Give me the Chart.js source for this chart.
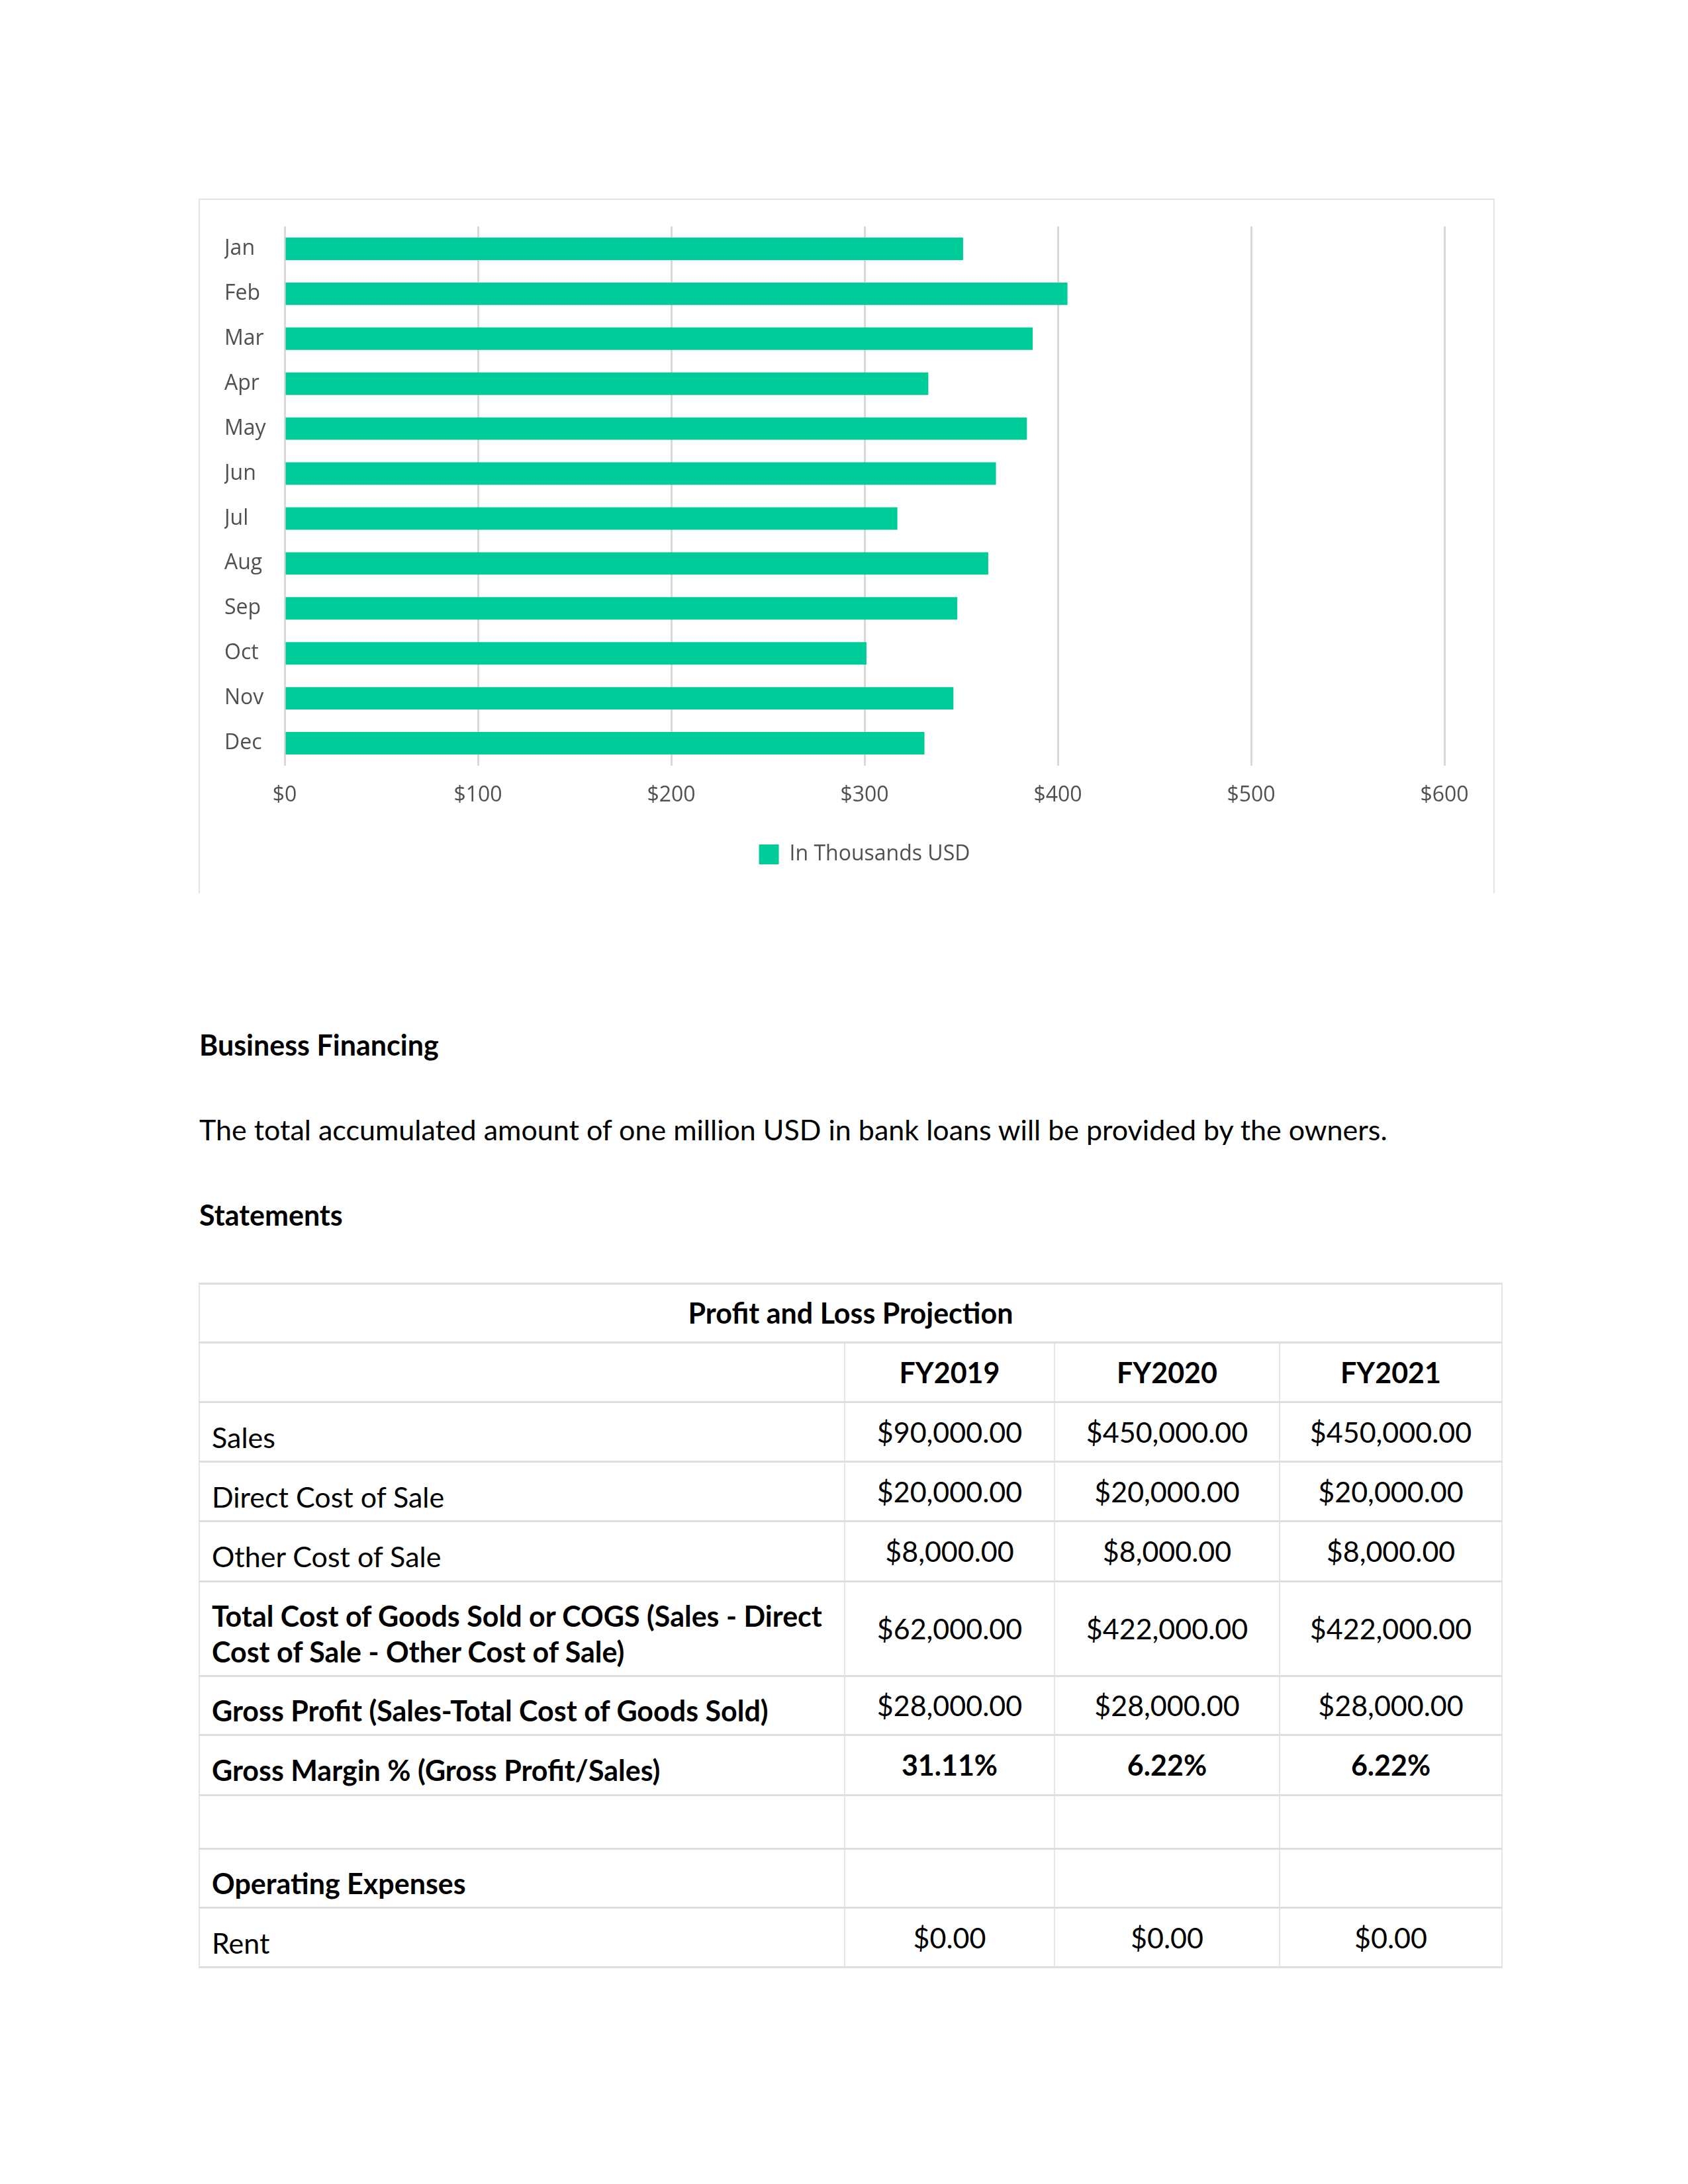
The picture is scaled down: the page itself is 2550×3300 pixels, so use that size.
<!DOCTYPE html>
<html>
<head>
<meta charset="utf-8">
<script src="https://cdn.jsdelivr.net/npm/chart.js"></script>
<style>
  html, body { margin: 0; padding: 0; background: #fff; }
  body { width: 2550px; height: 3300px; position: relative; font-family: Lato, "Open Sans", sans-serif; color: #000; }
  .frame { position: absolute; left: 300px; top: 300px; width: 1958px; height: 1050px; box-sizing: border-box;
           border: 2px solid #e4e4e4; border-bottom: none; }
  #salesChart { position: absolute; left: 300px; top: 301px; }
  .txt { position: absolute; left: 301px; font-size: 43px; line-height: 50px; white-space: nowrap; }
  .bold { font-weight: bold; }
  table { position: absolute; left: 300px; top: 1938px; width: 1968px; border-collapse: collapse; table-layout: fixed; font-size: 43px; }
  td { border-left: 2px solid #e6e6e6; border-right: 2px solid #e6e6e6; border-top: 3px solid #dedede; border-bottom: 3px solid #dedede;
       padding: 0 18px; vertical-align: middle; line-height: 54px; }
  td.lbl span { position: relative; top: 8px; display: inline-block; }
  td.num { text-align: center; }
  td.title { text-align: center; font-weight: bold; }
</style>
</head>
<body>
<div class="frame"></div>
<canvas id="salesChart" width="1957" height="1048"></canvas>

<div class="txt bold" style="top:1554px;">Business Financing</div>
<div class="txt" style="top:1682px;">The total accumulated amount of one million USD in bank loans will be provided by the owners.</div>
<div class="txt bold" style="top:1811px;">Statements</div>

<table id="pl"></table>

<script>
// monthly sales, in thousands USD
var months = ["Jan", "Feb", "Mar", "Apr", "May", "Jun", "Jul", "Aug", "Sep", "Oct", "Nov", "Dec"];
var monthValues = [351, 405, 387, 333, 384, 368, 317, 364, 348, 301, 346, 331];
var seriesLabel = "In Thousands USD";
var xMin = 0;
var xMax = 600;
var xStep = 100;

// profit and loss table
var tableTitle = "Profit and Loss Projection";
var years = ["FY2019", "FY2020", "FY2021"];
var rowLabels = ["Sales", "Direct Cost of Sale", "Other Cost of Sale",
  "Total Cost of Goods Sold or COGS (Sales - Direct<br>Cost of Sale - Other Cost of Sale)",
  "Gross Profit (Sales-Total Cost of Goods Sold)", "Gross Margin % (Gross Profit/Sales)",
  "", "Operating Expenses", "Rent"];
var rowBold = [false, false, false, true, true, true, false, true, false];
var rowValues = [
  ["$90,000.00", "$450,000.00", "$450,000.00"],
  ["$20,000.00", "$20,000.00", "$20,000.00"],
  ["$8,000.00", "$8,000.00", "$8,000.00"],
  ["$62,000.00", "$422,000.00", "$422,000.00"],
  ["$28,000.00", "$28,000.00", "$28,000.00"],
  ["31.11%", "6.22%", "6.22%"],
  ["", "", ""],
  ["", "", ""],
  ["$0.00", "$0.00", "$0.00"]
];
var boldValues = [false, false, false, false, false, true, false, false, false];
var rowHeights = [90, 90, 91, 143, 89, 91, 81, 89, 90];

var html = '<colgroup><col style="width:975px"><col style="width:317px"><col style="width:340px"><col style="width:336px"></colgroup>';
html += '<tr style="height:89px"><td class="title" colspan="4">' + tableTitle + '</td></tr>';
html += '<tr style="height:90px"><td></td>';
years.forEach(function (y) { html += '<td class="num bold">' + y + '</td>'; });
html += '</tr>';
rowLabels.forEach(function (lbl, i) {
  html += '<tr style="height:' + rowHeights[i] + 'px"><td class="lbl' + (rowBold[i] ? ' bold' : '') + '"><span>' + lbl + '</span></td>';
  rowValues[i].forEach(function (v) {
    html += '<td class="num' + (boldValues[i] ? ' bold' : '') + '">' + v + '</td>';
  });
  html += '</tr>';
});
document.getElementById("pl").innerHTML = html;

var axisFont = { family: "'Open Sans', sans-serif", size: 32 };
var axisColor = "#505050";

var ctx = document.getElementById("salesChart");
var salesChart = new Chart(ctx, {
  type: 'bar',
  data: {
    labels: months,
    datasets: [{
      label: seriesLabel,
      data: monthValues,
      backgroundColor: "#00cc99",
      borderWidth: 0,
      barPercentage: 0.5,
      categoryPercentage: 1.0
    }]
  },
  options: {
    indexAxis: 'y',
    responsive: false,
    animation: false,
    layout: { padding: { left: 39, right: 75, top: 41, bottom: 32 } },
    scales: {
      x: {
        min: xMin,
        max: xMax,
        ticks: {
          stepSize: xStep,
          padding: 26,
          color: axisColor,
          font: axisFont,
          callback: function (v) { return "$" + v; }
        },
        grid: { color: "#d9d9d9", lineWidth: 3, drawTicks: false },
        border: { display: false },
        afterFit: function (scale) { scale.height = 108; }
      },
      y: {
        grid: { display: false },
        border: { display: false },
        ticks: { crossAlign: 'far', color: axisColor, font: axisFont },
        afterFit: function (scale) { scale.width = 91; }
      }
    },
    plugins: {
      legend: {
        position: 'bottom',
        fullSize: false,
        labels: { boxWidth: 30, boxHeight: 30, padding: 10, color: axisColor, font: { family: "'Open Sans', sans-serif", size: 32 } }
      },
      tooltip: { enabled: false }
    }
  }
});
</script>
</body>
</html>
